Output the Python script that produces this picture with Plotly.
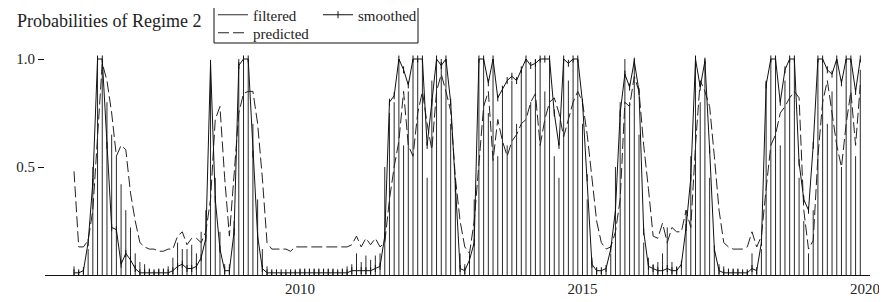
import plotly.graph_objects as go

# Monthly data, 2006(1) - 2019(12)
start_year = 2006
filtered = [
 .04,.02,.03,.12,.50,1.0,1.0,.80,.65,.55,.42,.30,
 .22,.10,.06,.05,.03,.02,.03,.03,.04,.08,.15,.12,
 .12,.14,.10,.20,.30,.97,.45,.20,.05,.05,.25,1.0,
 1.0,1.0,.70,.35,.12,.04,.02,.01,.01,.01,.02,.02,
 .03,.03,.03,.03,.03,.03,.03,.03,.02,.03,.04,.05,
 .10,.06,.09,.07,.09,.10,.50,.75,.80,1.0,.60,.85,
 1.0,1.0,1.0,.45,.90,1.0,1.0,1.0,.70,.45,.10,.05,
 .10,.35,1.0,1.0,.75,1.0,.55,.85,.60,.90,.70,.95,
 1.0,.80,1.0,1.0,.85,1.0,.55,.45,1.0,.90,1.0,1.0,
 .70,.35,.08,.03,.02,.03,.10,.50,.80,1.0,.80,1.0,
 .65,.15,.08,.05,.06,.10,.22,.06,.04,.05,.30,.55,
 1.0,.80,1.0,.45,.12,.05,.04,.03,.03,.03,.02,.02,
 .10,.02,.12,.90,1.0,1.0,.60,.90,1.0,1.0,.45,.25,
 .10,.30,1.0,1.0,.70,.85,1.0,.50,1.0,1.0,.55,.95,
]
smoothed = [
 .01,.01,.02,.15,.43,1.0,1.0,.60,.22,.21,.05,.10,
 .07,.03,.01,.01,.01,.01,.01,.01,.01,.02,.04,.05,
 .03,.03,.04,.08,.17,.98,.35,.12,.02,.02,.20,.97,
 1.0,1.0,.56,.18,.03,.01,.01,.01,.01,.01,.01,.01,
 .01,.01,.01,.01,.01,.01,.01,.01,.01,.01,.01,.02,
 .02,.02,.02,.02,.03,.04,.18,.80,.83,1.0,.95,.88,
 1.0,1.0,1.0,.60,.80,1.0,.97,1.0,.80,.40,.03,.02,
 .07,.15,1.0,1.0,.89,1.0,.82,.86,.90,.92,.90,.95,
 1.0,.97,.98,1.0,1.0,1.0,.75,.60,1.0,.98,1.0,1.0,
 .80,.45,.05,.02,.02,.03,.12,.30,.75,.93,.87,.99,
 .85,.20,.04,.03,.02,.02,.03,.02,.02,.05,.22,.45,
 1.0,.87,.99,.58,.12,.02,.01,.01,.01,.01,.01,.01,
 .03,.02,.15,.88,1.0,1.0,.80,.95,1.0,1.0,.52,.35,
 .30,.60,1.0,1.0,.95,.93,1.0,.89,1.0,1.0,.85,1.0,
]
predicted = [
 .48,.13,.13,.16,.30,.65,.98,.90,.75,.55,.60,.58,
 .38,.25,.15,.13,.12,.12,.11,.11,.12,.12,.18,.20,
 .14,.17,.17,.15,.20,.35,.72,.78,.45,.18,.45,.75,
 .84,.85,.85,.70,.45,.15,.12,.12,.12,.12,.11,.13,
 .13,.13,.13,.13,.13,.13,.13,.13,.13,.13,.13,.14,
 .18,.13,.17,.14,.17,.13,.15,.35,.50,.62,.85,.60,
 .55,.75,.85,.70,.58,.85,.93,.85,.76,.45,.25,.13,
 .10,.25,.50,.78,.85,.53,.72,.62,.55,.62,.65,.70,
 .72,.80,.84,.60,.72,.80,.82,.75,.64,.72,.80,.85,
 .80,.65,.45,.25,.15,.12,.13,.20,.35,.80,.78,.92,
 .85,.60,.40,.18,.17,.24,.15,.22,.20,.20,.30,.22,
 .60,.90,.85,.78,.55,.30,.15,.13,.12,.12,.12,.13,
 .20,.13,.18,.40,.60,.65,.75,.78,.82,.85,.82,.30,
 .12,.16,.55,.80,.90,.75,.60,.50,.70,.85,.60,.88,
]
x_tick_vals = [2010, 2015, 2020]
x_tick_text = ["2010", "2015", "2020"]
y_tick_vals = [0.5, 1.0]
y_tick_text = ["0.5", "1.0"]

t = [start_year + i / 12 for i in range(len(filtered))]

# filtered drawn as index (vertical) lines from zero
fx, fy = [], []
for xi, yi in zip(t, filtered):
    fx += [xi, xi, None]
    fy += [0, yi, None]

# page body has an 8px margin: the figure is drawn 8px in from the top-left
OFF = 8
W, H = 887 - OFF, 302 - OFF
PL, PR, PT, PB = 45, 870, 55, 275          # plot area in page pixels
L, R, T, B = PL - OFF, (887 - PR), PT - OFF, (302 - PB)
pw, ph = W - L - R, H - T - B

def px_x(p):
    return (p - OFF - L) / pw

def px_y(p):
    return (H - B - (p - OFF)) / ph

FONT = "Liberation Serif, Times New Roman, serif"
INK = "#111111"
legfont = dict(family=FONT, size=15, color="#222222")

fig = go.Figure()
fig.add_trace(go.Scatter(x=fx, y=fy, mode="lines", name="filtered",
                         line=dict(color="#2a2a2a", width=1), legend="legend"))
fig.add_trace(go.Scatter(x=t, y=predicted, mode="lines", name="predicted",
                         line=dict(color="#222222", width=1, dash="11px,4px"),
                         legend="legend3"))
fig.add_trace(go.Scatter(x=t, y=smoothed, mode="lines+markers", name="smoothed",
                         line=dict(color=INK, width=1),
                         marker=dict(symbol="line-ns-open", size=5,
                                     line=dict(color=INK, width=1)),
                         legend="legend2"))

def leg(xp, yp):
    return dict(x=px_x(xp), y=px_y(yp), xanchor="left", yanchor="middle",
                bgcolor="rgba(0,0,0,0)", font=legfont, borderwidth=0)

fig.update_layout(
    width=W, height=H,
    margin=dict(l=L, r=R, t=T, b=B, autoexpand=False),
    paper_bgcolor="white", plot_bgcolor="white",
    font=dict(family=FONT, size=15, color="#222222"),
    title=dict(text="Probabilities of Regime 2", x=(17 - OFF) / W, xanchor="left",
               xref="container", y=1 - (21 - OFF) / H, yref="container",
               yanchor="middle",
               font=dict(family=FONT, size=18, color="#222222")),
    legend=leg(213, 15),
    legend3=leg(213, 33),
    legend2=leg(318, 15),
    showlegend=True,
    shapes=[dict(type="rect", xref="paper", yref="paper",
                 x0=px_x(214), x1=px_x(418), y0=px_y(43), y1=px_y(4),
                 line=dict(color=INK, width=1), fillcolor="rgba(0,0,0,0)")],
)
fig.update_xaxes(range=[2010 - (300 - PL) / 56.5, 2020 + (PR - 865) / 56.5],
                 tickvals=x_tick_vals, ticktext=x_tick_text,
                 showgrid=False, zeroline=False, showline=True,
                 linecolor=INK, linewidth=1, ticks="",
                 tickfont=dict(family=FONT, size=15, color="#222222"))
fig.update_yaxes(range=[0, (PB - PT) / 216], tickvals=y_tick_vals,
                 ticktext=y_tick_text,
                 showgrid=False, zeroline=False, showline=False,
                 ticks="outside", ticklen=6, tickcolor=INK,
                 tickfont=dict(family=FONT, size=15, color="#222222"))

fig.write_html("out.html")
